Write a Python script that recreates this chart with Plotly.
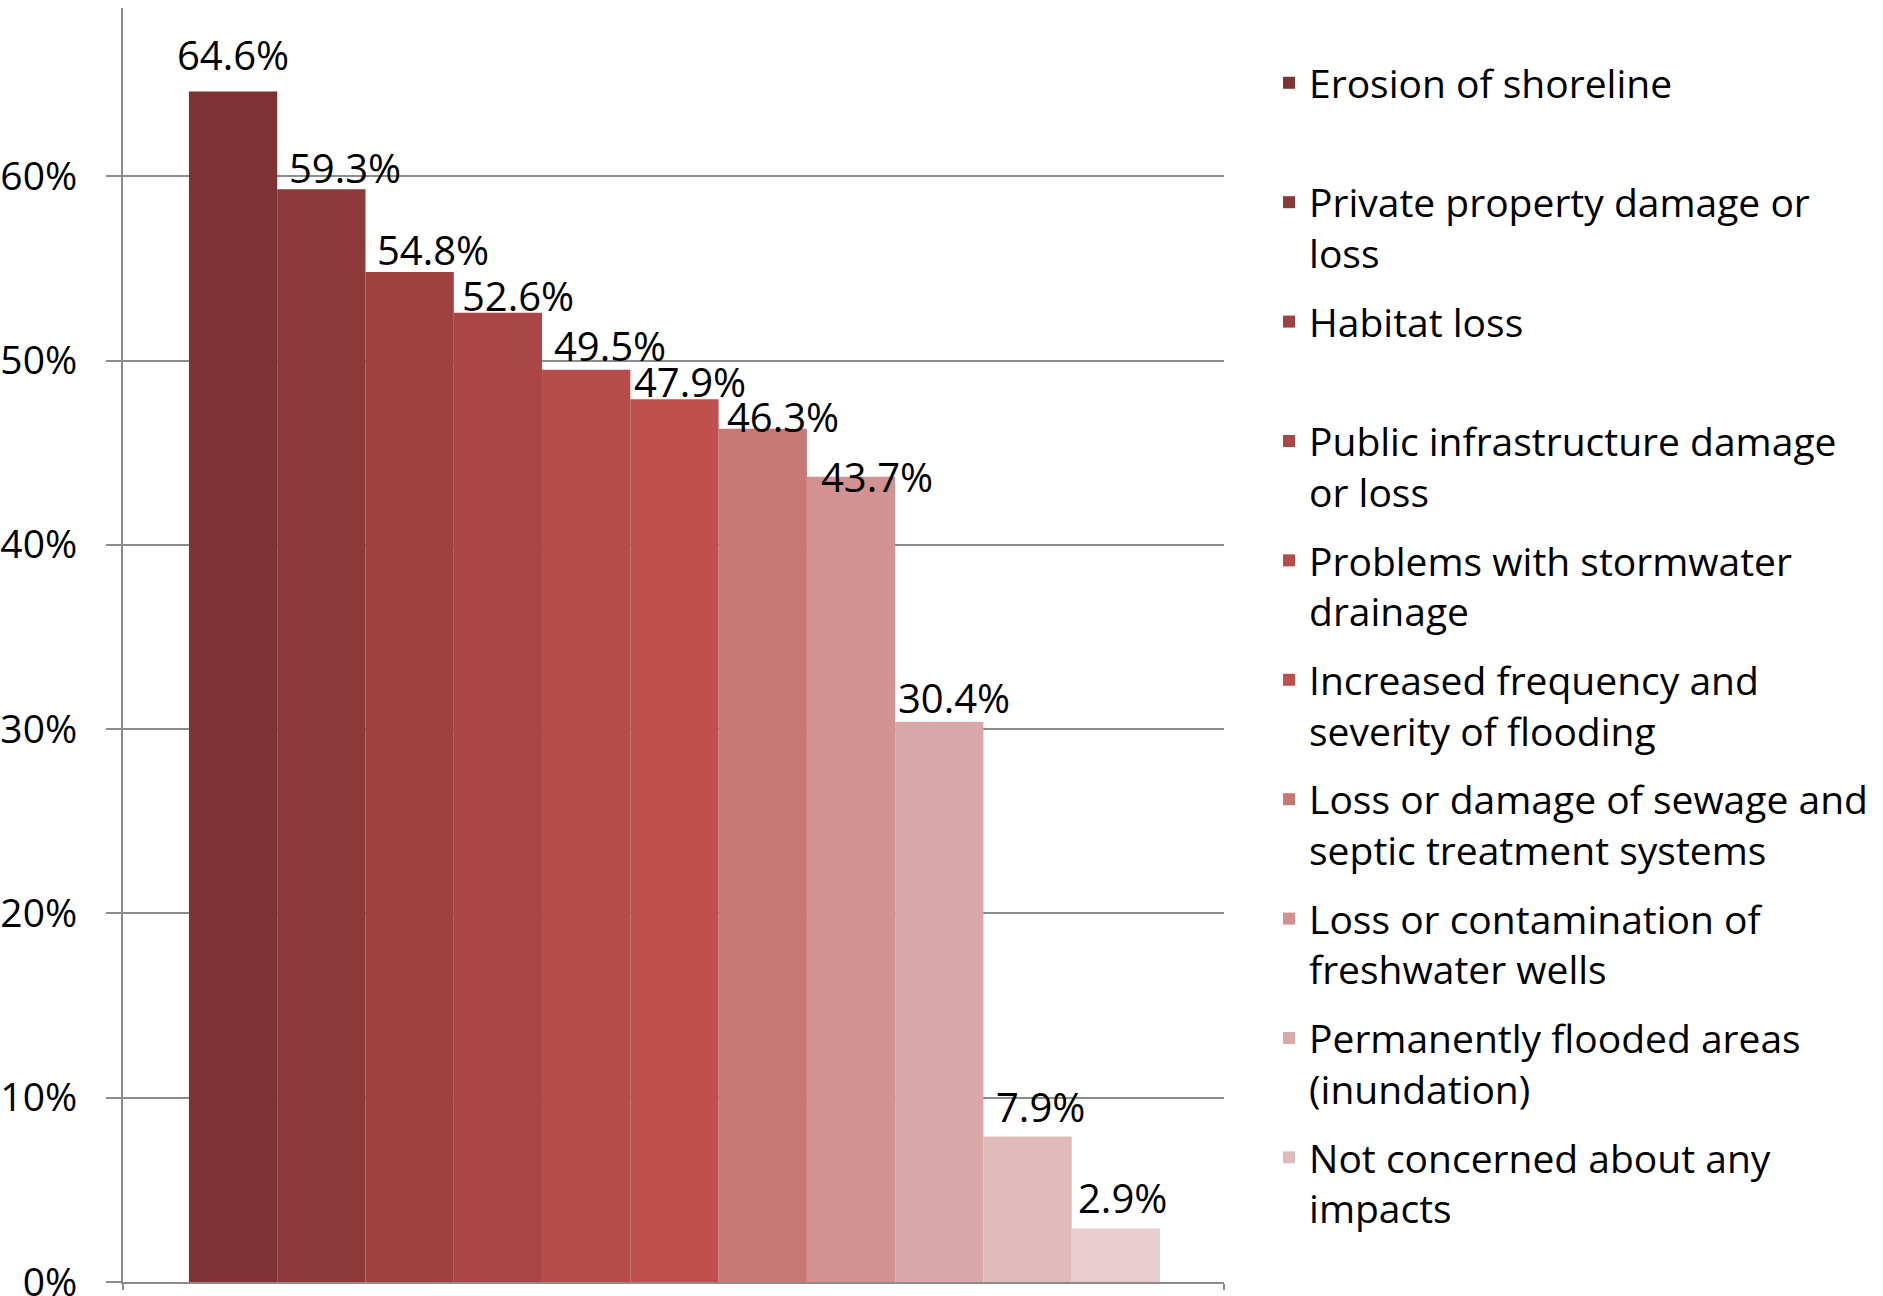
import plotly.graph_objects as go

# ---- data ----
series_names = [
    "Erosion of shoreline<br> ",
    "Private property damage or<br>loss",
    "Habitat loss<br> ",
    "Public infrastructure damage<br>or loss",
    "Problems with stormwater<br>drainage",
    "Increased frequency and<br>severity of flooding",
    "Loss or damage of sewage and<br>septic treatment systems",
    "Loss or contamination of<br>freshwater wells",
    "Permanently flooded areas<br>(inundation)",
    "Not concerned about any<br>impacts",
    "",
]
values = [0.646, 0.593, 0.548, 0.526, 0.495, 0.479, 0.463, 0.437, 0.304, 0.079, 0.029]
in_legend = [True, True, True, True, True, True, True, True, True, True, False]
y_ticks = [0, 0.1, 0.2, 0.3, 0.4, 0.5, 0.6]

# ---- styling ----
colors = ["#7F3233", "#8C3A39", "#9E4141", "#A94746", "#B54C4A", "#C0504D",
          "#C77774", "#D29291", "#DAA8A8", "#E0BBBB", "#E8CDCE"]
# label nudges (pixels) to mimic the original label placement
label_xshift = [0, 24, 23, 20, 24, 16, 20, 26, 15, 13, 7]
label_yshift = [7, -8, -7, -12, -5, -12, -17, -29, -5, 0, 2]
FONT = "Open Sans"
GRID = "#8C8C8C"
X_RANGE = [-1.247, 11.225]

fig = go.Figure()
for i, (name, v, c, leg) in enumerate(zip(series_names, values, colors, in_legend)):
    fig.add_trace(go.Bar(
        x=[i], y=[v], width=1, name=name, legendgroup="g%d" % i, showlegend=leg,
        marker=dict(color=c, line=dict(width=0)),
        hovertemplate="%{y:.1%}<extra></extra>",
    ))
    fig.add_annotation(
        x=i, y=v, text="%.1f%%" % (v * 100), showarrow=False,
        xanchor="center", yanchor="bottom",
        xshift=label_xshift[i], yshift=label_yshift[i],
        font=dict(family=FONT, size=40, color="black"),
    )

fig.update_layout(
    width=1883, height=1296,
    margin=dict(l=123, r=659, t=8, b=14, autoexpand=False),
    barmode="overlay",
    plot_bgcolor="white", paper_bgcolor="white",
    font=dict(family=FONT, color="black"),
    legend=dict(x=1.0409, xanchor="left", y=0.9663, yanchor="top",
                valign="top", tracegroupgap=15, traceorder="grouped",
                font=dict(family=FONT, size=39, color="black"),
                itemwidth=30, bgcolor="rgba(0,0,0,0)"),
    xaxis=dict(range=X_RANGE, showline=True, linecolor=GRID,
               linewidth=2, ticks="outside", tickvals=X_RANGE, ticklen=6,
               tickwidth=2, tickcolor=GRID, showticklabels=False, showgrid=False,
               zeroline=False),
    yaxis=dict(range=[0, 0.6913], tickvals=y_ticks, tickformat=".0%", showgrid=True,
               gridcolor=GRID, gridwidth=1.5, showline=True, linecolor=GRID,
               linewidth=2, ticks="outside", ticklen=15, tickwidth=2,
               tickcolor=GRID, zeroline=False, ticklabelstandoff=21,
               ticklabeloverflow="allow",
               tickfont=dict(family=FONT, size=39, color="black")),
)

fig.write_html("out.html", config={"displayModeBar": False},
               post_script="document.body.style.margin='0';")
